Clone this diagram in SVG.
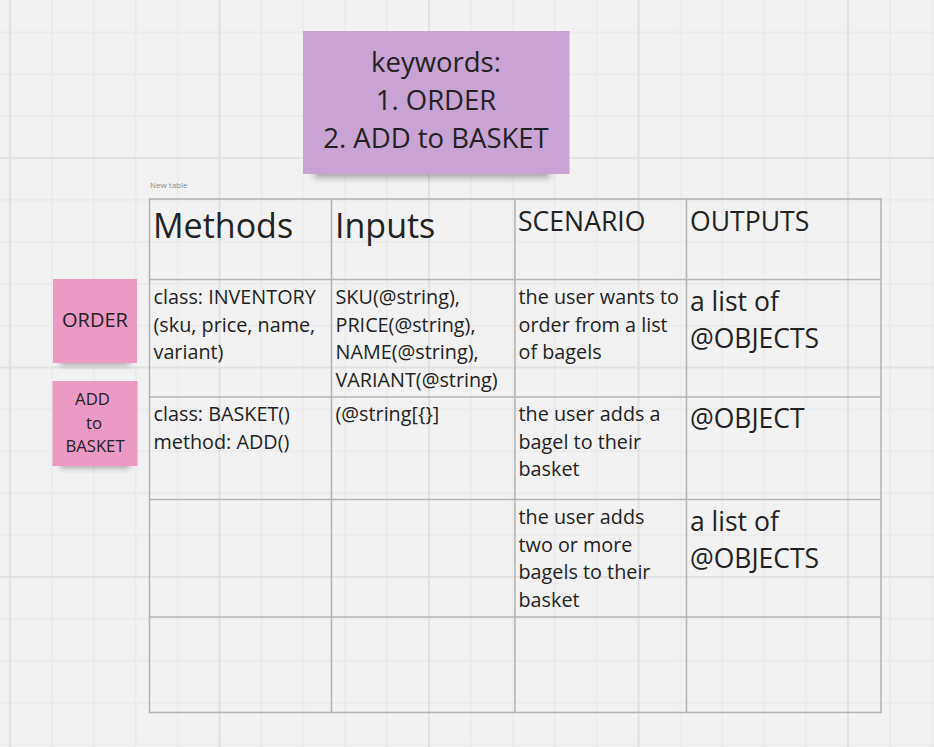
<svg xmlns="http://www.w3.org/2000/svg" width="934" height="747" viewBox="0 0 934 747">
<style>
text{font-family:"Open Sans","Liberation Sans",sans-serif;fill:#222222}
.cell{font-size:19.8px}
.big{font-size:26.5px}
.head{font-size:34px}
.head2{font-size:26.6px}
.tl{fill:none;stroke:#b4b4b4;stroke-width:1.6}
.minor{stroke:#e8e8e8;stroke-width:1.2}
.major{stroke:#e0e0e0;stroke-width:1.8}
</style>
<defs>
<pattern id="grid" patternUnits="userSpaceOnUse" x="9.1" y="157.1" width="209.5" height="209.5">
<line class="minor" x1="42.8" y1="0" x2="42.8" y2="209.5"/>
<line class="minor" x1="84.7" y1="0" x2="84.7" y2="209.5"/>
<line class="minor" x1="126.6" y1="0" x2="126.6" y2="209.5"/>
<line class="minor" x1="168.5" y1="0" x2="168.5" y2="209.5"/>
<line class="minor" x1="0" y1="42.8" x2="209.5" y2="42.8"/>
<line class="minor" x1="0" y1="84.7" x2="209.5" y2="84.7"/>
<line class="minor" x1="0" y1="126.6" x2="209.5" y2="126.6"/>
<line class="minor" x1="0" y1="168.5" x2="209.5" y2="168.5"/>
<line class="major" x1="0.9" y1="0" x2="0.9" y2="209.5"/>
<line class="major" x1="0" y1="0.9" x2="209.5" y2="0.9"/>
</pattern>
<filter id="shadow" x="-20%" y="-50%" width="140%" height="200%">
<feGaussianBlur stdDeviation="3"/>
</filter>
</defs>
<rect width="934" height="747" fill="#f2f2f2"/>
<rect width="934" height="747" fill="url(#grid)"/>
<g id="connectors"/>

<g id="keywords-note">
<rect x="314" y="166" width="236" height="12" fill="#000" opacity="0.3" filter="url(#shadow)"/>
<rect x="303" y="31" width="266.5" height="143" fill="#c9a3d4"/>
<text x="436" y="72" font-size="27.5" text-anchor="middle">keywords:</text>
<text x="436" y="110" font-size="27.5" text-anchor="middle">1. ORDER</text>
<text x="436" y="148" font-size="27.5" text-anchor="middle">2. ADD to BASKET</text>
</g>

<g id="order-note">
<rect x="60" y="356" width="70" height="9" fill="#000" opacity="0.32" filter="url(#shadow)"/>
<rect x="53" y="279" width="84" height="84" fill="#ec99c4"/>
<text x="95" y="327" font-size="20" text-anchor="middle">ORDER</text>
</g>

<g id="add-to-basket-note">
<rect x="60" y="459" width="70" height="9" fill="#000" opacity="0.32" filter="url(#shadow)"/>
<rect x="52.5" y="381" width="85" height="85" fill="#ec99c4"/>
<text x="92.5" y="405" font-size="16.7" text-anchor="middle">ADD</text>
<text x="94" y="429" font-size="16.7" text-anchor="middle">to</text>
<text x="95" y="452" font-size="16.7" text-anchor="middle">BASKET</text>
</g>

<g id="table">
<text x="150" y="187.5" font-size="8" style="fill:#8a8a8a">New table</text>
<rect class="tl" x="149.5" y="199" width="731.5" height="513.5"/>
<line class="tl" x1="331.5" y1="199" x2="331.5" y2="712.5"/>
<line class="tl" x1="515" y1="199" x2="515" y2="712.5"/>
<line class="tl" x1="686.5" y1="199" x2="686.5" y2="712.5"/>
<line class="tl" x1="149.5" y1="279.5" x2="881" y2="279.5"/>
<line class="tl" x1="149.5" y1="397" x2="881" y2="397"/>
<line class="tl" x1="149.5" y1="499.5" x2="881" y2="499.5"/>
<line class="tl" x1="149.5" y1="617" x2="881" y2="617"/>

<text class="head" x="153" y="238">Methods</text>
<text class="head" x="335" y="238">Inputs</text>
<text class="head2" x="518" y="231">SCENARIO</text>
<text class="head2" x="690" y="231">OUTPUTS</text>

<text class="cell" x="153.5" y="304">class: INVENTORY</text>
<text class="cell" x="153.5" y="331.5">(sku, price, name,</text>
<text class="cell" x="153.5" y="359">variant)</text>

<text class="cell" x="335.5" y="304">SKU(@string),</text>
<text class="cell" x="335.5" y="331.5">PRICE(@string),</text>
<text class="cell" x="335.5" y="359">NAME(@string),</text>
<text class="cell" x="335.5" y="386.5">VARIANT(@string)</text>

<text class="cell" x="518.5" y="304">the user wants to</text>
<text class="cell" x="518.5" y="331.5">order from a list</text>
<text class="cell" x="518.5" y="359">of bagels</text>

<text class="big" x="690" y="311">a list of</text>
<text class="big" x="690" y="348">@OBJECTS</text>

<text class="cell" x="153.5" y="421">class: BASKET()</text>
<text class="cell" x="153.5" y="448.5">method: ADD()</text>

<text class="cell" x="335.5" y="421">(@string[{}]</text>

<text class="cell" x="518.5" y="421">the user adds a</text>
<text class="cell" x="518.5" y="448.5">bagel to their</text>
<text class="cell" x="518.5" y="476">basket</text>

<text class="big" x="690" y="428">@OBJECT</text>

<text class="cell" x="518.5" y="524">the user adds</text>
<text class="cell" x="518.5" y="551.5">two or more</text>
<text class="cell" x="518.5" y="579">bagels to their</text>
<text class="cell" x="518.5" y="606.5">basket</text>

<text class="big" x="690" y="531">a list of</text>
<text class="big" x="690" y="568">@OBJECTS</text>
</g>
</svg>
